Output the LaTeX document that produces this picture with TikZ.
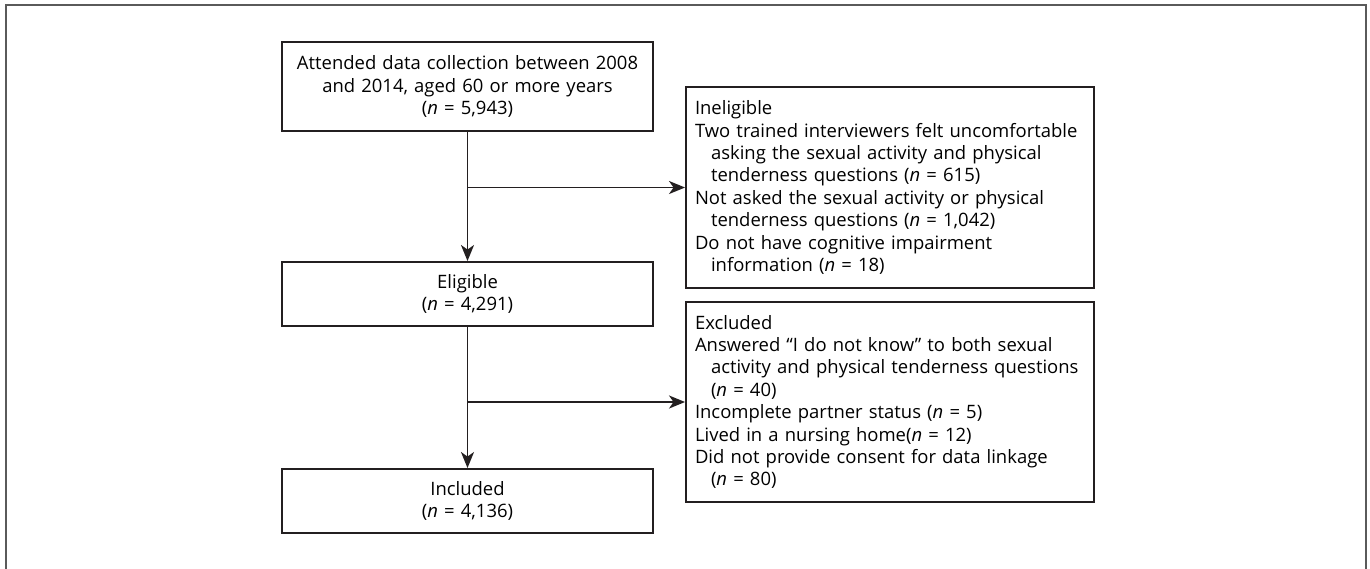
\documentclass[tikz,border=0pt]{standalone}
\usepackage{fontspec}
\setmainfont{Open Sans}
\usetikzlibrary{positioning,arrows.meta}
\newcommand{\ind}{\hspace*{0.32cm}}
\newcommand{\nn}{\textit{n}}
\definecolor{ink}{HTML}{231F20}
\definecolor{frame}{HTML}{5A5A5A}

\begin{document}
\begin{tikzpicture}[
	box/.style = {draw = ink, line width = 1.1pt, inner xsep = 0.18cm, font = \fontsize{10.5}{12.75}\selectfont},
	midbox/.style = {box, text width = 7.06cm, align = center, minimum width = 7.42cm},
	sidebox/.style = {box, text width = 7.8cm, align = left, minimum width = 8.16cm, minimum height = 4.02cm},
	arr/.style = {draw = ink, line width = 1.1pt, -{Stealth[length = 0.32cm, width = 0.26cm, inset = 0.09cm]}}]
	\useasboundingbox (0,0) rectangle (27.4,-11.36);
	% outer frame, its bottom edge lies below the picture
	\draw[frame, line width = 1.2pt] (0.12,-11.6) -- (0.12,-0.10) -- (27.32,-0.10) -- (27.32,-11.6);
	\node[midbox, minimum height = 1.78cm] (start) at (9.35,-1.73) {Attended data collection between 2008\\and 2014, aged 60 or more years\\(\nn{} = 5,943)};
	\node[midbox, minimum height = 1.28cm] (elig) at (9.35,-5.88) {Eligible\\(\nn{} = 4,291)};
	\node[midbox, minimum height = 1.28cm] (incl) at (9.35,-10.02) {Included\\(\nn{} = 4,136)};
	\node[sidebox] (inelig) at (17.80,-3.75) {Ineligible\\
		Two trained interviewers felt uncomfortable\\
		\ind asking the sexual activity and physical\\
		\ind tenderness questions (\nn{} = 615)\\
		Not asked the sexual activity or physical\\
		\ind tenderness questions (\nn{} = 1,042)\\
		Do not have cognitive impairment\\
		\ind information (\nn{} = 18)};
	\node[sidebox, minimum height = 4.0cm] (excl) at (17.80,-8.04) {Excluded\\
		Answered ``I do not know'' to both sexual\\
		\ind activity and physical tenderness questions\\
		\ind (\nn{} = 40)\\
		Incomplete partner status (\nn{} = 5)\\
		Lived in a nursing home(\nn{} = 12)\\
		Did not provide consent for data linkage\\
		\ind (\nn{} = 80)};
	\coordinate (split1) at (start.south |- inelig.west);
	\coordinate (split2) at (elig.south |- excl.west);
	\draw[arr] (start) -- (elig);
	\draw[arr] (elig) -- (incl);
	\draw[arr] (split1) -- (inelig);
	\draw[arr] (split2) -- (excl);
\end{tikzpicture}
\end{document}
